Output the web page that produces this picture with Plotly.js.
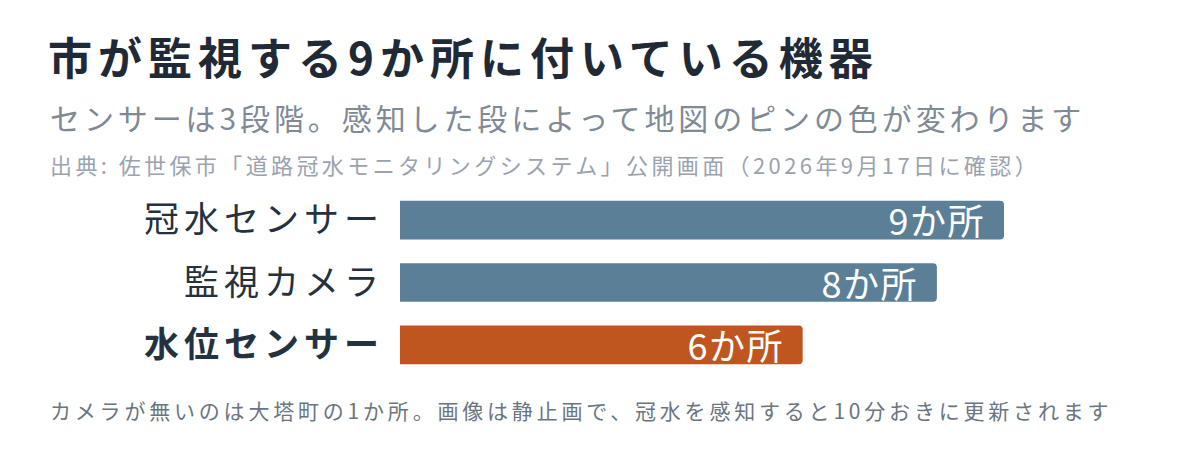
<!DOCTYPE html>
<html>
<head>
<meta charset="utf-8">
<script src="https://cdn.plot.ly/plotly-3.0.1.min.js"></script>
<style>
  html, body { margin: 0; padding: 0; background: #fff; }
  /* the reference sets its Japanese text with loose tracking */
  #myDiv .gtitle { letter-spacing: 6px; }
  #myDiv .ytick text { letter-spacing: 5px; }
  #myDiv .annotation[data-index="0"] text,
  #myDiv .annotation[data-index="1"] text,
  #myDiv .annotation[data-index="2"] text { letter-spacing: 1.5px; }
  #myDiv .annotation[data-index="3"] text { letter-spacing: 3.9px; }
  #myDiv .annotation[data-index="4"] text { letter-spacing: 3.4px; }
  #myDiv .annotation[data-index="5"] text { letter-spacing: 3.8px; }
</style>
</head>
<body>
<div id="myDiv" style="width:1200px;height:452px;"></div>
<script>
// data
var categories = ['冠水センサー', '監視カメラ', '水位センサー'];
var counts = [9, 8, 6];
var barColors = ['#5b7f96', '#5b7f96', '#c0561f'];
var unit = 'か所';

var FONT = '"Noto Sans CJK JP", "Noto Sans", sans-serif';
var W = 1200, H = 452;
var margin = {l: 400, r: 196, t: 189, b: 76};
var plotW = W - margin.l - margin.r;
var plotH = H - margin.t - margin.b;

// px -> paper coords
function px(x) { return (x - margin.l) / plotW; }
function py(y) { return (H - margin.b - y) / plotH; }

// bold only the last category
var tickText = categories.map(function (c, i) {
    return i === categories.length - 1 ? '<b>' + c + '</b>' : c;
});

var data = [{
    type: 'bar',
    orientation: 'h',
    x: counts,
    y: categories,
    marker: {color: barColors},
    hoverinfo: 'none'
}];

var annotations = [];
counts.forEach(function (v, i) {
    annotations.push({
        x: v, y: categories[i], xref: 'x', yref: 'y',
        text: v + unit, showarrow: false,
        xanchor: 'right', align: 'right', xshift: -17, yshift: 1,
        font: {family: FONT, size: 36, color: '#ffffff'}
    });
});

// subtitle, source, footnote
annotations.push({
    xref: 'paper', yref: 'paper', x: px(48), y: py(117),
    xanchor: 'left', align: 'left', yanchor: 'middle', showarrow: false,
    text: 'センサーは3段階。感知した段によって地図のピンの色が変わります',
    font: {family: FONT, size: 30, color: '#808a95'}
});
annotations.push({
    xref: 'paper', yref: 'paper', x: px(48), y: py(164),
    xanchor: 'left', align: 'left', yanchor: 'middle', showarrow: false,
    text: '出典: 佐世保市「道路冠水モニタリングシステム」公開画面（2026年9月17日に確認）',
    font: {family: FONT, size: 22, color: '#9aa3ad'}
});
annotations.push({
    xref: 'paper', yref: 'paper', x: px(48), y: py(410),
    xanchor: 'left', align: 'left', yanchor: 'middle', showarrow: false,
    text: 'カメラが無いのは大塔町の1か所。画像は静止画で、冠水を感知すると10分おきに更新されます',
    font: {family: FONT, size: 21, color: '#6b7580'}
});

var layout = {
    width: W,
    height: H,
    margin: margin,
    paper_bgcolor: '#ffffff',
    plot_bgcolor: '#ffffff',
    showlegend: false,
    bargap: 0.38,
    barcornerradius: 4,
    title: {
        text: '<b>市が監視する9か所に付いている機器</b>',
        x: 48 / W, xanchor: 'left', xref: 'container',
        y: 1 - 60 / H, yanchor: 'middle', yref: 'container',
        font: {family: FONT, size: 44, color: '#1f2a36'}
    },
    xaxis: {
        range: [0, 9],
        visible: false,
        fixedrange: true
    },
    yaxis: {
        type: 'category',
        autorange: 'reversed',
        tickvals: categories,
        ticktext: tickText,
        showgrid: false,
        zeroline: false,
        showline: false,
        ticks: '',
        ticklabelstandoff: 15,
        tickfont: {family: FONT, size: 35, color: '#243240'},
        fixedrange: true
    },
    annotations: annotations
};

Plotly.newPlot('myDiv', data, layout, {displayModeBar: false, staticPlot: true});
</script>
</body>
</html>
